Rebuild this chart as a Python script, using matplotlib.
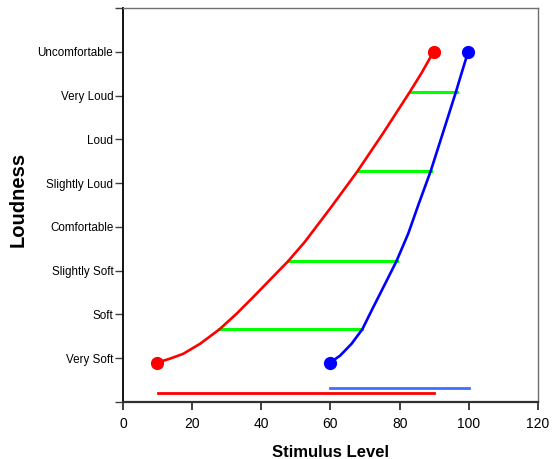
import matplotlib
matplotlib.use("Agg")
import matplotlib.pyplot as plt

plt.rcParams['font.family'] = ['Liberation Sans', 'DejaVu Sans']

# loudness categories (1..8)
levels = ['Very Soft', 'Soft', 'Slightly Soft', 'Comfortable',
          'Slightly Loud', 'Loud', 'Very Loud', 'Uncomfortable']

# red curve
red_x = [9.9, 13.6, 17.4, 22.3, 27.9, 32.9, 37.7, 42.5, 47.8, 52.6,
         59.9, 67.8, 75.3, 83.0, 86.3, 89.8]
red_y = [0.9, 0.99, 1.10, 1.33, 1.66, 2.02, 2.40, 2.79, 3.22, 3.66,
         4.42, 5.27, 6.15, 7.09, 7.51, 8.0]

# blue curve
blue_x = [59.9, 62.8, 66.1, 69.2, 72.4, 75.8, 79.1, 82.5, 85.4, 89.0,
          92.6, 96.3, 97.9, 99.8]
blue_y = [0.9, 1.06, 1.33, 1.66, 2.17, 2.70, 3.22, 3.85, 4.50, 5.28,
          6.17, 7.09, 7.51, 8.0]

# green connectors: level, start, end
green_y = [1.67, 3.23, 5.28, 7.09]
green_x0 = [27.9, 47.8, 67.9, 82.9]
green_x1 = [69.2, 79.3, 89.2, 96.5]

# range bars at the bottom
red_range = (10, 90, 0.21)
blue_range = (60, 100, 0.31)

fig = plt.figure(figsize=(5.52, 4.59), dpi=100)
ax = fig.add_axes([0.2228, 0.1242, 0.7518, 0.8584])

ax.plot(red_x, red_y, color='#ff0000', lw=1.9, zorder=3, solid_joinstyle='round')
ax.plot(blue_x, blue_y, color='#0000ff', lw=1.9, zorder=3, solid_joinstyle='round')
ax.plot([red_x[0], red_x[-1]], [red_y[0], red_y[-1]], 'o', color='#ff0000', ms=8.5, zorder=4)
ax.plot([blue_x[0], blue_x[-1]], [blue_y[0], blue_y[-1]], 'o', color='#0000ff', ms=8.5, zorder=4)

for y, x0, x1 in zip(green_y, green_x0, green_x1):
    ax.plot([x0, x1], [y, y], color='#00ff00', lw=2.2, zorder=2)

ax.plot(red_range[:2], [red_range[2]] * 2, color='#ff0000', lw=2)
ax.plot(blue_range[:2], [blue_range[2]] * 2, color='#3f6fff', lw=2)

ax.set_xlim(0, 120)
ax.set_ylim(0, 9)
ax.set_xticks(range(0, 121, 20))
ax.set_yticks(range(0, 10))
ax.set_yticklabels([''] + levels + [''])
ax.tick_params(axis='y', labelsize=8.4, length=6, width=1, color='#404040', pad=1)
ax.tick_params(axis='x', labelsize=10, length=6, width=1.3, color='#303030', pad=5)

ax.spines['left'].set_color('black')
ax.spines['left'].set_linewidth(1.3)
ax.spines['bottom'].set_color('#303030')
ax.spines['bottom'].set_linewidth(1.6)
ax.spines['top'].set_color('#707070')
ax.spines['top'].set_linewidth(1.0)
ax.spines['right'].set_color('#707070')
ax.spines['right'].set_linewidth(1.0)

ax.set_xlabel('Stimulus Level', fontsize=12, fontweight='bold', labelpad=10)
ax.set_ylabel('Loudness', fontsize=14.5, fontweight='bold')
ax.yaxis.set_label_coords(-0.229, 0.513)

fig.savefig('out.png', dpi=100)
